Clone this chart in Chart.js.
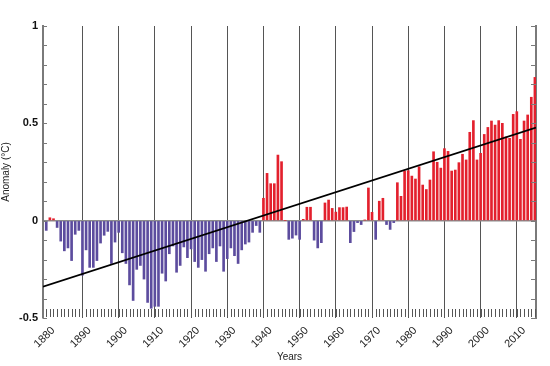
<!DOCTYPE html>
<html>
<head>
<meta charset="utf-8">
<script src="https://cdn.jsdelivr.net/npm/chart.js@4.4.1/dist/chart.umd.min.js"></script>
<style>
  html, body { margin: 0; padding: 0; background: #ffffff; }
  #wrap { width: 550px; height: 366px; }
</style>
</head>
<body>
<div id="wrap"><canvas id="c" width="550" height="366"></canvas></div>
<script>
// ---- data ----
const startYear = 1880;
const anomalies = [
  // 1880s
  -0.05, 0.015, 0.01, -0.035, -0.105, -0.155, -0.14, -0.205, -0.07, -0.05,
  // 1890s
  -0.28, -0.15, -0.24, -0.24, -0.205, -0.115, -0.075, -0.055, -0.22, -0.11,
  // 1900s
  -0.06, -0.165, -0.22, -0.33, -0.41, -0.25, -0.23, -0.30, -0.42, -0.45,
  // 1910s
  -0.44, -0.44, -0.27, -0.31, -0.17, -0.13, -0.265, -0.23, -0.135, -0.19,
  // 1920s
  -0.145, -0.21, -0.24, -0.20, -0.26, -0.17, -0.14, -0.21, -0.13, -0.26,
  // 1930s
  -0.195, -0.14, -0.18, -0.22, -0.15, -0.12, -0.11, -0.06, -0.025, -0.06,
  // 1940s
  0.115, 0.243, 0.19, 0.19, 0.337, 0.303, 0.0, -0.096, -0.09, -0.074,
  // 1950s
  -0.096, 0.007, 0.069, 0.069, -0.10, -0.14, -0.113, 0.091, 0.106, 0.063,
  // 1960s
  0.044, 0.067, 0.067, 0.07, -0.113, -0.056, -0.01, -0.02, 0.003, 0.168,
  // 1970s
  0.043, -0.096, 0.10, 0.115, -0.02, -0.045, -0.01, 0.195, 0.125, 0.255,
  // 1980s
  0.257, 0.229, 0.214, 0.277, 0.183, 0.16, 0.209, 0.354, 0.30, 0.27,
  // 1990s
  0.37, 0.356, 0.255, 0.26, 0.298, 0.341, 0.312, 0.454, 0.514, 0.312,
  // 2000s
  0.346, 0.443, 0.479, 0.512, 0.491, 0.514, 0.50, 0.43, 0.423, 0.546,
  // 2010s
  0.56, 0.418, 0.512, 0.543, 0.634, 0.736
];
const years = anomalies.map((_, i) => startYear + i);
const decadeLabels = ['1880','1890','1900','1910','1920','1930','1940','1950','1960','1970','1980','1990','2000','2010'];
const trendYears = [1879.1, 2015.3];
const trendValues = [-0.339, 0.478];
const yLabelled = [-0.5, 0, 0.5, 1];

const FONT = "'Liberation Sans', Arial, Helvetica, sans-serif";
const posColor = '#e3202d';
const negColor = '#5c4c9e';

// draws the small inward tick marks of both value axes and the yearly marks along the bottom
const innerTicks = {
  id: 'innerTicks',
  afterDraw(chart) {
    const { ctx, chartArea: a, scales } = chart;
    const x = scales.x, y = scales.y;
    ctx.save();
    ctx.lineWidth = 1;
    ctx.strokeStyle = '#7a7a7a';
    y.ticks.forEach(t => {
      const py = Math.round(y.getPixelForValue(t.value)) + 0.5;
      ctx.beginPath();
      ctx.moveTo(a.left, py); ctx.lineTo(a.left + 4, py);
      ctx.moveTo(a.right - 5, py); ctx.lineTo(a.right, py);
      ctx.stroke();
    });
    ctx.strokeStyle = '#555555';
    years.forEach(yr => {
      const px = Math.round(x.getPixelForValue(yr)) + 0.5;
      ctx.beginPath();
      ctx.moveTo(px, a.bottom - 9); ctx.lineTo(px, a.bottom - 1);
      ctx.stroke();
    });
    ctx.restore();
  }
};

new Chart(document.getElementById('c'), {
  type: 'bar',
  data: {
    datasets: [
      {
        type: 'line',
        data: trendYears.map((yr, i) => ({ x: yr, y: trendValues[i] })),
        borderColor: '#000000',
        borderWidth: 1.6,
        pointRadius: 0,
        fill: false,
        order: 0
      },
      {
        type: 'bar',
        data: years.map((yr, i) => ({ x: yr, y: anomalies[i] })),
        backgroundColor: ctx => (ctx.raw && ctx.raw.y >= 0 ? posColor : negColor),
        borderWidth: 0,
        barThickness: 2,
        order: 1
      }
    ]
  },
  options: {
    responsive: false,
    animation: false,
    layout: { padding: { top: 26, right: 0, bottom: 0, left: 0 } },
    plugins: { legend: { display: false }, tooltip: { enabled: false } },
    scales: {
      x: {
        type: 'linear',
        position: 'bottom',
        min: 1879.1,
        max: 2015.3,
        offset: false,
        afterBuildTicks: s => { s.ticks = decadeLabels.map(l => ({ value: Number(l) })); },
        afterFit: s => { s.height = 48; },
        ticks: {
          autoSkip: false,
          maxRotation: 45,
          minRotation: 45,
          padding: 6,
          labelOffset: 7,
          color: '#222222',
          font: { family: FONT, size: 11 },
          callback: v => String(v)
        },
        grid: {
          offset: false,
          drawTicks: false,
          lineWidth: 1,
          color: c => (c.tick && c.tick.value === 1880 ? 'rgba(0,0,0,0)' : '#555555')
        },
        border: { display: false },
        title: {
          display: true,
          text: 'Years',
          color: '#222222',
          font: { family: FONT, size: 10 },
          padding: { top: 0, bottom: 3 }
        }
      },
      y: {
        position: 'left',
        min: -0.5,
        max: 1,
        afterFit: s => { s.width = 43; },
        ticks: {
          stepSize: 0.1,
          autoSkip: false,
          padding: 5,
          color: '#111111',
          font: { family: FONT, size: 11, weight: 'bold' },
          callback: v => (yLabelled.some(l => Math.abs(l - v) < 1e-6) ? String(Math.round(v * 10) / 10) : '')
        },
        grid: {
          drawTicks: false,
          lineWidth: 1.5,
          color: c => (c.tick && Math.abs(c.tick.value) < 1e-6 ? '#8c8c8c' : 'rgba(0,0,0,0)')
        },
        border: { display: true, color: '#7a7a7a', width: 2 },
        title: {
          display: true,
          text: 'Anomaly (°C)',
          color: '#222222',
          font: { family: FONT, size: 10 },
          padding: { top: 0, bottom: 2 }
        }
      },
      y2: {
        position: 'right',
        min: -0.5,
        max: 1,
        afterFit: s => { s.width = 14; },
        ticks: { display: false },
        grid: { display: true, drawOnChartArea: false, drawTicks: false, color: 'rgba(0,0,0,0)' },
        border: { display: true, color: '#7a7a7a', width: 2 }
      }
    }
  },
  plugins: [innerTicks]
});
</script>
</body>
</html>
